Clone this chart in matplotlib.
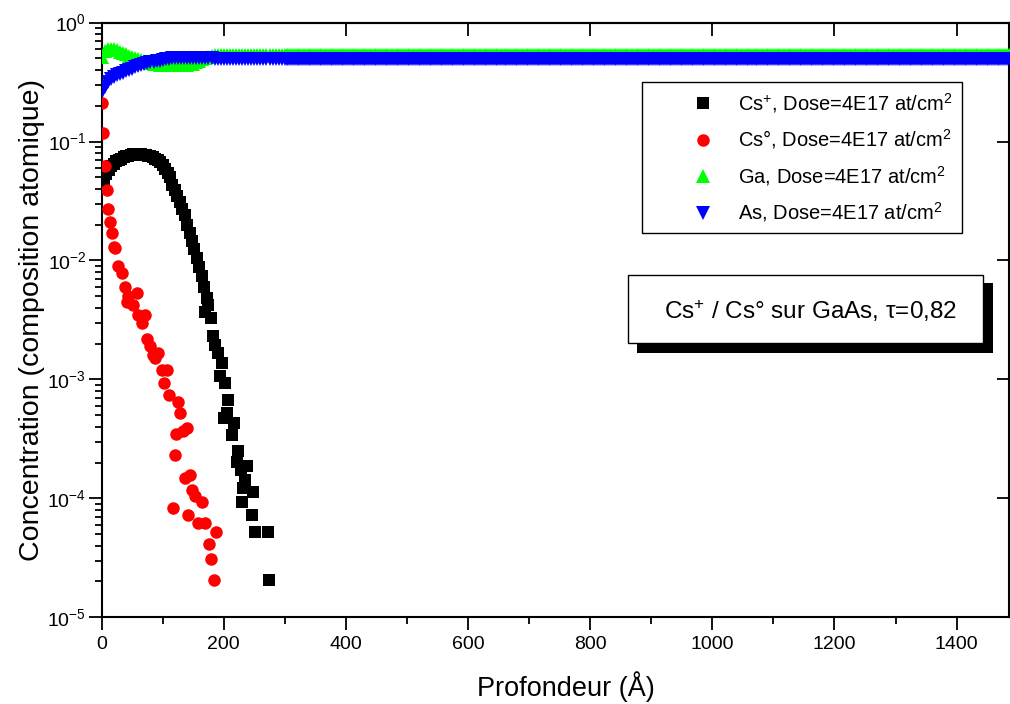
import numpy as np
import matplotlib.pyplot as plt
from matplotlib.legend_handler import HandlerLine2D
from matplotlib.lines import Line2D
from matplotlib.patches import Rectangle
from matplotlib.ticker import LogLocator, NullLocator, MultipleLocator

plt.rcParams['font.family'] = ['Liberation Sans', 'DejaVu Sans']
plt.rcParams['mathtext.fontset'] = 'custom'
plt.rcParams['mathtext.rm'] = 'Liberation Sans'
plt.rcParams['mathtext.it'] = 'Liberation Sans:italic'
plt.rcParams['mathtext.bf'] = 'Liberation Sans:bold'

# Cs+ : dense part (every 4 A) then the scattered tail
csp_depth = list(np.arange(0, 176, 4)) + [
    169, 174.7, 178.6, 182, 185.7, 191, 193.8, 196.6, 200.4, 202, 204.8, 207.4,
    213, 216.8, 221, 223.8, 227.7, 229.3, 232, 234.8, 237.6, 245.7, 248.4, 251,
    272, 274.6]
csp_conc = [
    0.040, 0.047, 0.053, 0.058, 0.062, 0.065, 0.068, 0.070, 0.072, 0.074, 0.075,
    0.076, 0.077, 0.078, 0.078, 0.078, 0.078, 0.077, 0.077, 0.076, 0.075, 0.074,
    0.072, 0.070, 0.067, 0.063, 0.059, 0.054, 0.050, 0.043, 0.039, 0.035, 0.031,
    0.027, 0.024, 0.020, 0.017, 0.0145, 0.0125, 0.0105, 0.0088, 0.0074, 0.0060,
    0.0048,
    0.0037, 0.00424, 0.0033, 0.0023, 0.00195, 0.00166, 0.00106, 0.00137, 0.00047,
    0.00093, 0.00052, 0.00067, 0.00034, 0.00043, 0.000204, 0.00025, 0.000174,
    9.4e-5, 0.000122, 0.000143, 0.000186, 7.3e-5, 0.000114, 5.2e-5, 5.2e-5, 2.07e-5]

# Cs0
cs0_depth = [
    0, 2.8, 5.6, 8.3, 11, 13.8, 16.5, 20.3, 22, 27.4, 32.9, 38.3, 41, 43.7, 52,
    57.5, 60, 65.6, 71, 73.8, 79, 84.7, 87.4, 93, 98.4, 102, 107.6, 110.9, 116.4,
    120, 121.8, 125.6, 128.4, 133.8, 136.5, 140.3, 142, 144.7, 147.5, 152.9,
    158.3, 163.9, 169.3, 176.3, 179, 184.5, 187.3]
cs0_conc = [
    0.21, 0.117, 0.062, 0.039, 0.027, 0.021, 0.017, 0.0131, 0.0127, 0.009, 0.0078,
    0.006, 0.0045, 0.005, 0.0042, 0.0053, 0.0035, 0.003, 0.0035, 0.0022, 0.0019,
    0.00162, 0.0015, 0.00166, 0.0012, 0.00093, 0.00119, 0.00074, 8.3e-5, 0.00023,
    0.00035, 0.00064, 0.00052, 0.00037, 0.000148, 0.00039, 7.3e-5, 0.000158,
    0.000118, 0.000104, 6.2e-5, 9.4e-5, 6.2e-5, 4.1e-5, 3.1e-5, 2.07e-5, 5.2e-5]

# Ga / As near the surface, every 5 A from 0 to 295 A
surf_depth = np.arange(0, 300, 5)
ga_surf = [
    0.51, 0.58, 0.60, 0.60, 0.595, 0.585, 0.57, 0.555, 0.54, 0.528, 0.516, 0.505,
    0.495, 0.486, 0.477, 0.469, 0.455, 0.450, 0.446, 0.443, 0.442, 0.441, 0.440,
    0.440, 0.440, 0.440, 0.441, 0.442, 0.444, 0.447, 0.452, 0.462, 0.477, 0.493,
    0.507, 0.518, 0.526, 0.531, 0.534, 0.535, 0.535, 0.535, 0.535, 0.535, 0.535,
    0.535, 0.535, 0.535, 0.535, 0.535, 0.535, 0.535, 0.535, 0.535, 0.535, 0.535,
    0.535, 0.535, 0.535, 0.535]
as_surf = [
    0.26, 0.29, 0.315, 0.335, 0.35, 0.36, 0.37, 0.38, 0.39, 0.40, 0.41, 0.42,
    0.43, 0.44, 0.448, 0.455, 0.462, 0.468, 0.474, 0.48, 0.486, 0.491, 0.496,
    0.50, 0.503, 0.505, 0.507, 0.508, 0.508, 0.508, 0.507, 0.506, 0.505, 0.504,
    0.503, 0.502, 0.50, 0.499, 0.498, 0.497, 0.496, 0.495, 0.494, 0.493, 0.492,
    0.491, 0.49, 0.49, 0.49, 0.49, 0.49, 0.49, 0.49, 0.49, 0.49, 0.49, 0.49,
    0.49, 0.49, 0.49]
# deeper: flat matrix composition, simulation step ~3 A
bulk_depth = np.arange(300, 1500, 3)
ga_bulk = 0.535
as_bulk = 0.49

ga_depth = np.concatenate([surf_depth, bulk_depth])
ga_conc = np.concatenate([ga_surf, np.full(len(bulk_depth), ga_bulk)])
as_depth = ga_depth
as_conc = np.concatenate([as_surf, np.full(len(bulk_depth), as_bulk)])

lab = ' Dose=4E17 at/cm$^{2}$'

W, H = 1010, 704
fig = plt.figure(figsize=(W / 100, H / 100), dpi=100)
ax = fig.add_axes([101.6 / W, (H - 617.3) / H, (1008.5 - 101.6) / W, (617.3 - 22.6) / H])

l1, = ax.plot(csp_depth, csp_conc, 's', color='#000000', ms=8.2, mew=0, zorder=2,
              label='Cs$^{+}$,' + lab)
l3, = ax.plot(ga_depth, ga_conc, '^', color='#00ff00', ms=10.5, mew=0, zorder=3,
              label='Ga,' + lab)
l4, = ax.plot(as_depth, as_conc, 'v', color='#0000ff', ms=10.5, mew=0, zorder=4,
              label='As,' + lab)
l2, = ax.plot(cs0_depth, cs0_conc, 'o', color='#ff0000', ms=9, mew=0, zorder=5,
              label='Cs°,' + lab)

ax.set_yscale('log')
ax.set_ylim(1e-5, 1)
ax.set_xlim(0, 1485)
ax.xaxis.set_major_locator(MultipleLocator(200))
ax.xaxis.set_minor_locator(MultipleLocator(100))
ax.yaxis.set_major_locator(LogLocator(base=10, numticks=10))
ax.yaxis.set_minor_locator(LogLocator(base=10, subs=np.arange(2, 10), numticks=10))

for s in ax.spines.values():
    s.set_linewidth(1.5)
ax.tick_params(which='major', direction='out', length=9.5, width=1.3, labelsize=14,
               top=False, right=False)
ax.tick_params(axis='x', which='major', pad=4)
ax.tick_params(axis='y', which='major', pad=1.5)
ax.tick_params(which='minor', direction='out', length=5, width=1.3,
               top=False, right=False)

top = ax.secondary_xaxis('top')
top.xaxis.set_major_locator(MultipleLocator(200))
top.xaxis.set_minor_locator(NullLocator())
top.tick_params(direction='in', length=9, width=1.3, labeltop=False)
top.spines['top'].set_linewidth(1.5)
right = ax.secondary_yaxis('right')
right.yaxis.set_major_locator(LogLocator(base=10, numticks=10))
right.yaxis.set_minor_locator(NullLocator())
right.tick_params(direction='in', length=9, width=1.3, labelright=False)

ax.set_xlabel('Profondeur (Å)', fontsize=19.5)
ax.xaxis.set_label_coords((566 - 101.6) / 906.9, -0.09)
ax.set_ylabel('Concentration (composition atomique)', fontsize=20.5)
ax.yaxis.set_label_coords(-(101.6 - 45) / 906.9, 0.5)

leg = ax.legend(handles=[l1, l2, l3, l4], loc='upper left',
                bbox_to_anchor=(641.7 / W, 1 - 81.7 / H), bbox_transform=fig.transFigure,
                borderaxespad=0, fontsize=14.5, fancybox=False, framealpha=1,
                edgecolor='black', borderpad=0.45, labelspacing=0.63,
                handlelength=3.54, handletextpad=0.8,
                handler_map={Line2D: HandlerLine2D(numpoints=1, xpad=1.63)})
leg.get_frame().set_linewidth(1.0)

# annotation box with drop shadow
fig.add_artist(Rectangle((636.7 / W, 1 - 352.7 / H), (992.7 - 636.7) / W, (352.7 - 283.3) / H,
                         transform=fig.transFigure, facecolor='black', edgecolor='none'))
fig.add_artist(Rectangle((628.3 / W, 1 - 343.3 / H), (983.3 - 628.3) / W, (343.3 - 275) / H,
                         transform=fig.transFigure, facecolor='white', edgecolor='black',
                         linewidth=1.0))
fig.text(810 / W, 1 - 311 / H, 'Cs$^{+}$ / Cs° sur GaAs, τ=0,82', fontsize=17.5,
         ha='center', va='center')

fig.savefig('out.png', dpi=100)
